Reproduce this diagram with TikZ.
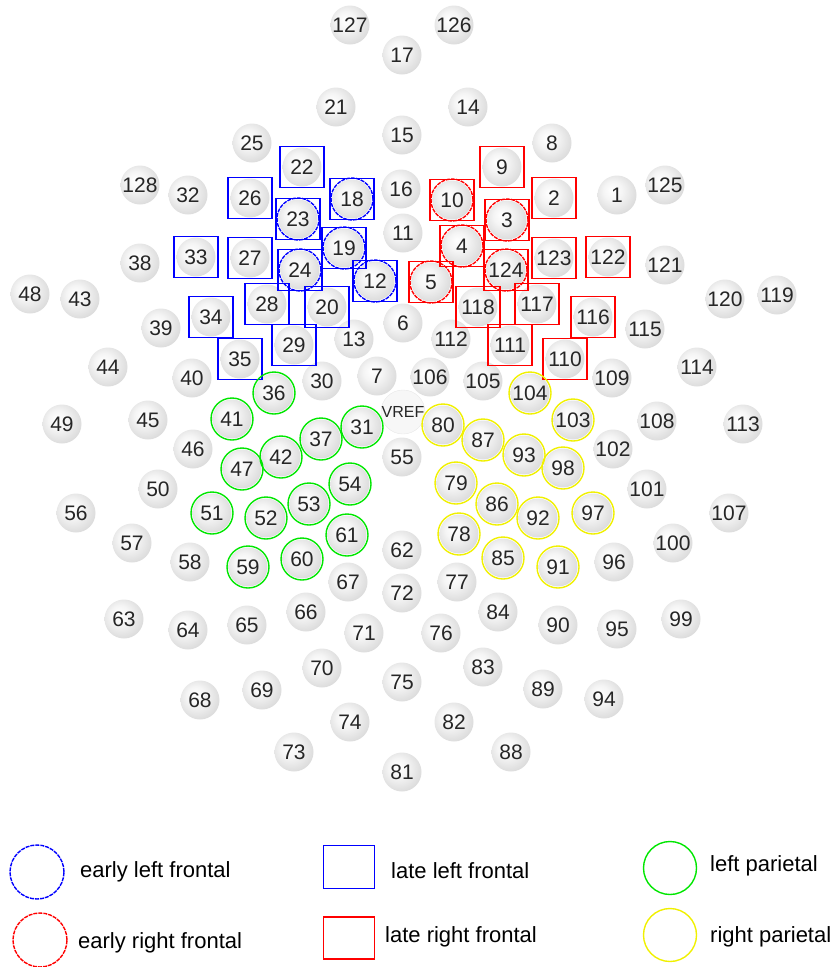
\documentclass[tikz,border=0pt]{standalone}
\usepackage{fontspec}
\setmainfont{Liberation Sans}
\usetikzlibrary{positioning}

\definecolor{erpblue}{RGB}{0,0,255}
\definecolor{erpred}{RGB}{255,0,0}
\definecolor{erpgreen}{RGB}{0,230,0}
\definecolor{erpyellow}{RGB}{240,240,0}

% soft grey disc, light spot up-left
\pgfdeclareradialshading{discshade}{\pgfpoint{-7bp}{7bp}}{color(0bp)=(white); color(12bp)=(black!4); color(32bp)=(black!16); color(50bp)=(black!16)}

\begin{document}
\begin{tikzpicture}[
    x=1pt, y=-1pt,
    elec/.style={circle, shade, shading=discshade, minimum size=39pt, inner sep=0pt, font=\fontsize{21}{21}\selectfont, text=black!85},
    vref/.style={circle, fill=black!3, draw=black!9, minimum size=39pt, inner sep=0pt, font=\fontsize{16}{16}\selectfont, text=black!85},
    lateleft/.style={rectangle, draw=erpblue, line width=1.9pt, minimum width=44pt, minimum height=41pt},
    lateright/.style={rectangle, draw=erpred, line width=1.9pt, minimum width=44pt, minimum height=41pt},
    earlyleft/.style={circle, draw=erpblue, line width=1.4pt, dash pattern=on 4pt off 1pt, minimum size=42pt, inner sep=0pt},
    earlyright/.style={circle, draw=erpred, line width=1.4pt, dash pattern=on 4pt off 1pt, minimum size=42pt, inner sep=0pt},
    parleft/.style={circle, draw=erpgreen, line width=1.4pt, minimum size=42pt, inner sep=0pt},
    parright/.style={circle, draw=erpyellow, line width=1.4pt, minimum size=42pt, inner sep=0pt},
    legtext/.style={anchor=west, inner sep=0pt, font=\fontsize{22}{22}\selectfont}
]
\useasboundingbox (0,0) rectangle (830,967);

% electrodes, front to back
\node[elec] (e127) at (350,25) {127};
\node[elec] (e126) at (454,25) {126};
\node[elec] (e17) at (402,55) {17};
\node[elec] (e21) at (336,107) {21};
\node[elec] (e14) at (468,107) {14};
\node[elec] (e15) at (402,135) {15};
\node[elec] (e25) at (252,143) {25};
\node[elec] (e8) at (552,143) {8};
\node[elec] (e22) at (302,167) {22};
\node[elec] (e9) at (502,167) {9};
\node[elec] (e128) at (140,185) {128};
\node[elec] (e32) at (188,195) {32};
\node[elec] (e26) at (250,198) {26};
\node[elec] (e18) at (352,199) {18};
\node[elec] (e16) at (401,189) {16};
\node[elec] (e10) at (452,200) {10};
\node[elec] (e2) at (554,198) {2};
\node[elec] (e1) at (617,195) {1};
\node[elec] (e125) at (665,185) {125};
\node[elec] (e23) at (298,219) {23};
\node[elec] (e3) at (507,220) {3};
\node[elec] (e11) at (403,233) {11};
\node[elec] (e33) at (196,257) {33};
\node[elec] (e27) at (250,258) {27};
\node[elec] (e19) at (344,248) {19};
\node[elec] (e4) at (462,246) {4};
\node[elec] (e124) at (506,270) {124};
\node[elec] (e123) at (554,258) {123};
\node[elec] (e122) at (608,257) {122};
\node[elec] (e38) at (140,263) {38};
\node[elec] (e121) at (665,265) {121};
\node[elec] (e24) at (300,270) {24};
\node[elec] (e12) at (375,281) {12};
\node[elec] (e5) at (431,282) {5};
\node[elec] (e48) at (30,294) {48};
\node[elec] (e43) at (80,299) {43};
\node[elec] (e120) at (725,299) {120};
\node[elec] (e119) at (777,295) {119};
\node[elec] (e28) at (267,304) {28};
\node[elec] (e20) at (327,307) {20};
\node[elec] (e118) at (478,307) {118};
\node[elec] (e117) at (537,304) {117};
\node[elec] (e34) at (211,317) {34};
\node[elec] (e116) at (593,317) {116};
\node[elec] (e39) at (161,328) {39};
\node[elec] (e6) at (403,323) {6};
\node[elec] (e13) at (354,339) {13};
\node[elec] (e112) at (451,339) {112};
\node[elec] (e115) at (645,329) {115};
\node[elec] (e29) at (294,345) {29};
\node[elec] (e111) at (510,345) {111};
\node[elec] (e35) at (240,359) {35};
\node[elec] (e110) at (565,359) {110};
\node[elec] (e44) at (108,367) {44};
\node[elec] (e114) at (697,367) {114};
\node[elec] (e40) at (192,378) {40};
\node[elec] (e30) at (322,381) {30};
\node[elec] (e7) at (377,376) {7};
\node[elec] (e106) at (430,377) {106};
\node[elec] (e105) at (483,381) {105};
\node[elec] (e109) at (612,378) {109};
\node[elec] (e36) at (274,393) {36};
\node[elec] (e104) at (530,393) {104};
\node[vref] (vref) at (403,412) {VREF};
\node[elec] (e49) at (62,424) {49};
\node[elec] (e45) at (148,420) {45};
\node[elec] (e41) at (232,419) {41};
\node[elec] (e31) at (362,427) {31};
\node[elec] (e80) at (443,425) {80};
\node[elec] (e103) at (573,420) {103};
\node[elec] (e108) at (657,421) {108};
\node[elec] (e113) at (743,424) {113};
\node[elec] (e37) at (321,439) {37};
\node[elec] (e87) at (483,440) {87};
\node[elec] (e46) at (193,449) {46};
\node[elec] (e102) at (613,449) {102};
\node[elec] (e42) at (281,457) {42};
\node[elec] (e55) at (402,457) {55};
\node[elec] (e93) at (524,455) {93};
\node[elec] (e47) at (242,469) {47};
\node[elec] (e98) at (563,468) {98};
\node[elec] (e50) at (158,489) {50};
\node[elec] (e54) at (350,484) {54};
\node[elec] (e79) at (456,483) {79};
\node[elec] (e101) at (647,489) {101};
\node[elec] (e53) at (309,504) {53};
\node[elec] (e86) at (497,504) {86};
\node[elec] (e56) at (76,513) {56};
\node[elec] (e51) at (212,513) {51};
\node[elec] (e52) at (266,518) {52};
\node[elec] (e92) at (538,518) {92};
\node[elec] (e97) at (593,513) {97};
\node[elec] (e107) at (729,513) {107};
\node[elec] (e61) at (347,535) {61};
\node[elec] (e78) at (459,534) {78};
\node[elec] (e57) at (132,543) {57};
\node[elec] (e100) at (673,543) {100};
\node[elec] (e62) at (402,550) {62};
\node[elec] (e60) at (302,559) {60};
\node[elec] (e85) at (503,558) {85};
\node[elec] (e58) at (190,562) {58};
\node[elec] (e59) at (248,567) {59};
\node[elec] (e91) at (558,567) {91};
\node[elec] (e96) at (614,562) {96};
\node[elec] (e67) at (348,582) {67};
\node[elec] (e77) at (457,582) {77};
\node[elec] (e72) at (402,593) {72};
\node[elec] (e66) at (306,612) {66};
\node[elec] (e84) at (498,612) {84};
\node[elec] (e63) at (124,619) {63};
\node[elec] (e99) at (681,619) {99};
\node[elec] (e65) at (247,625) {65};
\node[elec] (e90) at (558,625) {90};
\node[elec] (e95) at (617,629) {95};
\node[elec] (e64) at (188,630) {64};
\node[elec] (e71) at (364,633) {71};
\node[elec] (e76) at (441,633) {76};
\node[elec] (e70) at (322,668) {70};
\node[elec] (e83) at (483,667) {83};
\node[elec] (e75) at (402,682) {75};
\node[elec] (e69) at (262,690) {69};
\node[elec] (e89) at (543,689) {89};
\node[elec] (e68) at (200,700) {68};
\node[elec] (e94) at (604,699) {94};
\node[elec] (e74) at (350,722) {74};
\node[elec] (e82) at (454,722) {82};
\node[elec] (e73) at (294,752) {73};
\node[elec] (e88) at (511,752) {88};
\node[elec] (e81) at (402,772) {81};

% late left frontal
\node[lateleft] (ll22) at (e22) {};
\node[lateleft] (ll26) at (e26) {};
\node[lateleft] (ll18) at (e18) {};
\node[lateleft] (ll23) at (e23) {};
\node[lateleft] (ll33) at (e33) {};
\node[lateleft] (ll27) at (e27) {};
\node[lateleft] (ll19) at (e19) {};
\node[lateleft] (ll24) at (e24) {};
\node[lateleft] (ll12) at (e12) {};
\node[lateleft] (ll34) at (e34) {};
\node[lateleft] (ll28) at (e28) {};
\node[lateleft] (ll20) at (e20) {};
\node[lateleft] (ll29) at (e29) {};
\node[lateleft] (ll35) at (e35) {};

% late right frontal
\node[lateright] (lr9) at (e9) {};
\node[lateright] (lr10) at (e10) {};
\node[lateright] (lr2) at (e2) {};
\node[lateright] (lr3) at (e3) {};
\node[lateright] (lr4) at (e4) {};
\node[lateright] (lr123) at (e123) {};
\node[lateright] (lr122) at (e122) {};
\node[lateright] (lr5) at (e5) {};
\node[lateright] (lr124) at (e124) {};
\node[lateright] (lr118) at (e118) {};
\node[lateright] (lr117) at (e117) {};
\node[lateright] (lr116) at (e116) {};
\node[lateright] (lr111) at (e111) {};
\node[lateright] (lr110) at (e110) {};

% early frontal
\node[earlyleft] (el18) at (e18) {};
\node[earlyleft] (el23) at (e23) {};
\node[earlyleft] (el19) at (e19) {};
\node[earlyleft] (el24) at (e24) {};
\node[earlyleft] (el12) at (e12) {};
\node[earlyright] (er10) at (e10) {};
\node[earlyright] (er3) at (e3) {};
\node[earlyright] (er4) at (e4) {};
\node[earlyright] (er5) at (e5) {};
\node[earlyright] (er124) at (e124) {};

% parietal
\node[parleft] (pl36) at (e36) {};
\node[parleft] (pl41) at (e41) {};
\node[parleft] (pl31) at (e31) {};
\node[parleft] (pl37) at (e37) {};
\node[parleft] (pl42) at (e42) {};
\node[parleft] (pl47) at (e47) {};
\node[parleft] (pl54) at (e54) {};
\node[parleft] (pl51) at (e51) {};
\node[parleft] (pl53) at (e53) {};
\node[parleft] (pl52) at (e52) {};
\node[parleft] (pl61) at (e61) {};
\node[parleft] (pl59) at (e59) {};
\node[parleft] (pl60) at (e60) {};
\node[parright] (pr104) at (e104) {};
\node[parright] (pr103) at (e103) {};
\node[parright] (pr80) at (e80) {};
\node[parright] (pr87) at (e87) {};
\node[parright] (pr93) at (e93) {};
\node[parright] (pr98) at (e98) {};
\node[parright] (pr79) at (e79) {};
\node[parright] (pr86) at (e86) {};
\node[parright] (pr92) at (e92) {};
\node[parright] (pr97) at (e97) {};
\node[parright] (pr78) at (e78) {};
\node[parright] (pr85) at (e85) {};
\node[parright] (pr91) at (e91) {};

% legend
\node[earlyleft, minimum size=54pt] (keyel) at (37,872) {};
\node[legtext] (txtel) at (80,872) {early left frontal};
\node[earlyright, minimum size=54pt] (keyer) at (40,940) {};
\node[legtext] (txter) at (78,943) {early right frontal};
\node[lateleft, minimum width=51pt, minimum height=43pt] (keyll) at (349,867) {};
\node[legtext] (txtll) at (391,871) {late left frontal};
\node[lateright, minimum width=51pt, minimum height=42pt] (keylr) at (349,938) {};
\node[legtext] (txtlr) at (385,937) {late right frontal};
\node[parleft, minimum size=53pt] (keypl) at (670,868) {};
\node[legtext] (txtpl) at (710,866) {left parietal};
\node[parright, minimum size=53pt] (keypr) at (670,935) {};
\node[legtext] (txtpr) at (710,937) {right parietal};

\end{tikzpicture}
\end{document}
